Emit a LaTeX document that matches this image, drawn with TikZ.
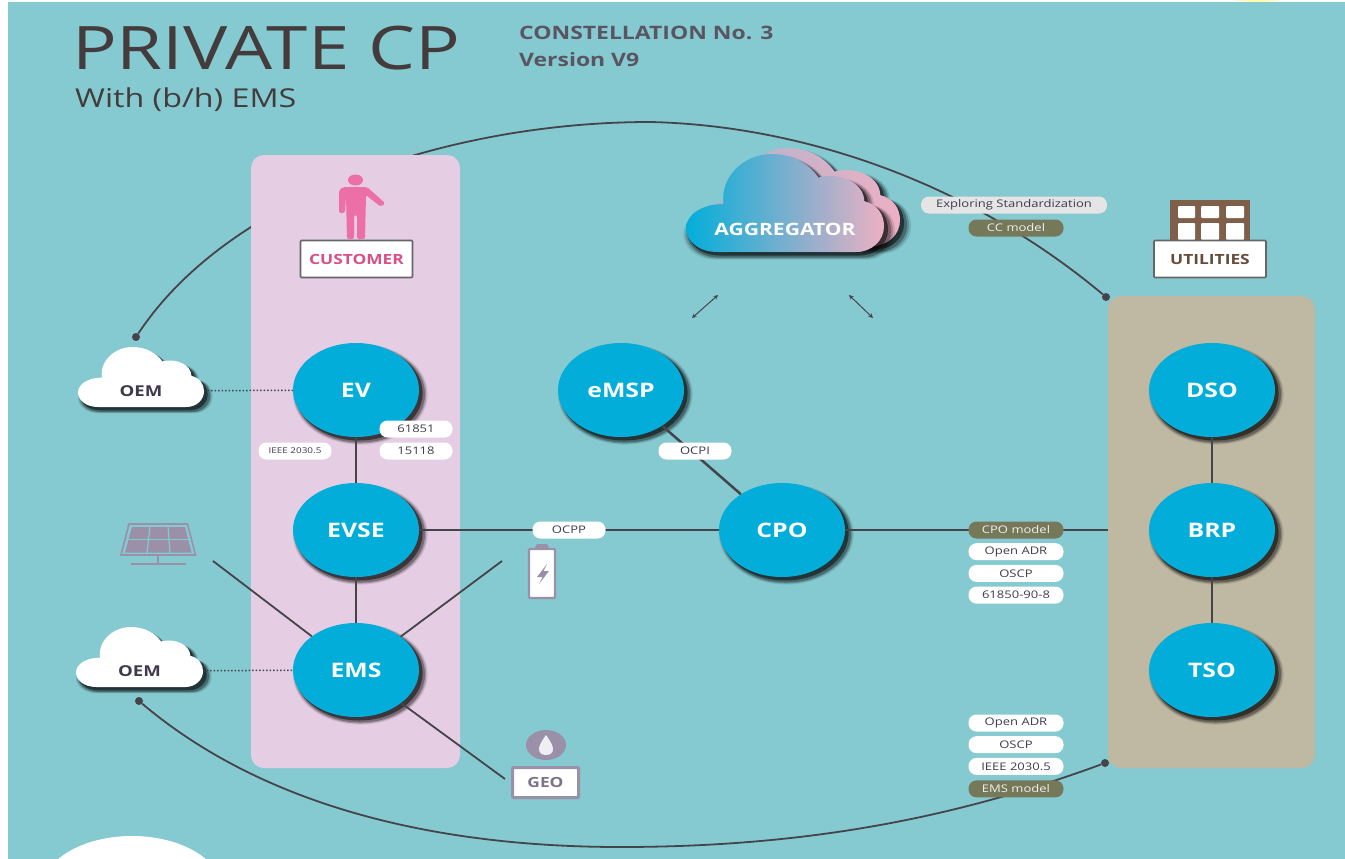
\documentclass[tikz,border=0pt]{standalone}
\usepackage{fontspec}
\setmainfont[FakeStretch=1.24]{Open Sans}
\usetikzlibrary{shapes.geometric,shadows}

\definecolor{tealback}{HTML}{85CAD1}
\definecolor{pinkpanel}{HTML}{E5CDE3}
\definecolor{tanpanel}{HTML}{BFB8A3}
\definecolor{actorblue}{HTML}{02AED9}
\definecolor{linedark}{HTML}{45444B}
\definecolor{titledark}{HTML}{443C3C}
\definecolor{subdark}{HTML}{5A5561}
\definecolor{pilltext}{HTML}{3F3A4E}
\definecolor{olivepill}{HTML}{76785A}
\definecolor{iconmauve}{HTML}{9A90A8}
\definecolor{manpink}{HTML}{EC6FA8}
\definecolor{custpink}{HTML}{D94F87}
\definecolor{brownbldg}{HTML}{7F5F4A}
\definecolor{cloudpink}{HTML}{EDB0C4}
\definecolor{cloudmauve}{HTML}{A9B4CE}

% cloud outline in a unit box, y running downwards
\newcommand{\cloudpath}{(0.16,1) .. controls (0.06,1) and (0,0.88) .. (0,0.76) .. controls (0,0.62) and (0.08,0.51) .. (0.19,0.51) .. controls (0.17,0.22) and (0.30,0) .. (0.43,0) .. controls (0.54,0) and (0.62,0.10) .. (0.67,0.24) .. controls (0.78,0.18) and (0.90,0.30) .. (0.90,0.48) .. controls (0.97,0.52) and (1,0.62) .. (1,0.74) .. controls (1,0.88) and (0.94,1) .. (0.86,1) -- cycle}

\tikzset{
  softshadow/.style={
    general shadow={fill=black,opacity=.10,shadow scale=1.07,shadow xshift=4pt,shadow yshift=-4pt},
    general shadow={fill=black,opacity=.18,shadow scale=1.05,shadow xshift=4pt,shadow yshift=-4pt},
    general shadow={fill=black,opacity=.28,shadow scale=1.03,shadow xshift=4pt,shadow yshift=-4pt},
    general shadow={fill=black,opacity=.50,shadow scale=1.01,shadow xshift=3pt,shadow yshift=-3pt}},
  actor/.style={ellipse,fill=actorblue,text=white,minimum width=126pt,minimum height=94pt,inner sep=0pt,softshadow,font=\fontsize{20}{24}\selectfont\bfseries},
  panelbox/.style={rounded corners=13pt,inner sep=0pt},
  pill/.style={rectangle,rounded corners=8pt,fill=white,text=pilltext,minimum width=73pt,minimum height=17pt,inner sep=0pt,font=\fontsize{10.5}{12}\selectfont},
  widepill/.style={pill,minimum width=95pt},
  olive/.style={widepill,fill=olivepill,text=white!90!olivepill},
  link/.style={draw=linedark,line width=2.5pt},
  thinlink/.style={draw=linedark,line width=1.8pt},
  dotlink/.style={draw=linedark,line width=1.5pt,dotted},
  enddot/.style={circle,fill=linedark,inner sep=0pt,minimum size=8pt},
  namebox/.style={rectangle,rounded corners=1pt,draw=black!60,line width=1.6pt,fill=white,minimum width=112pt,minimum height=37pt,inner sep=0pt,font=\fontsize{14}{16}\selectfont\bfseries},
  window/.style={fill=white,rounded corners=1pt},
}

\begin{document}
\begin{tikzpicture}[x=1pt,y=-1pt,node distance=140pt]
        \useasboundingbox (0,0) rectangle (1345,859);

        \begin{scope}
          \clip (0,0) rectangle (1345,859);
          \fill[yellow!30!white] (1257,-8) ellipse (40 and 10);
          \fill[tealback] (8,2) rectangle (1345,859);
          \fill[white] (132,890) ellipse (90 and 54);
        \end{scope}

        % arcs with their end dots
        \node (oemtopdot) [enddot] at (136,337) {};
        \node (oembottomdot) [enddot] at (139,701) {};
        \node (utiltopdot) [enddot] at (1106,297) {};
        \node (utilbottomdot) [enddot] at (1105,763) {};
        \draw[thinlink] (oemtopdot) .. controls (230,195) and (450,122) .. (650,122) .. controls (790,125) and (960,175) .. (utiltopdot);
        \draw[thinlink] (oembottomdot) .. controls (280,820) and (470,847) .. (620,847) .. controls (800,847) and (950,820) .. (utilbottomdot);

        % panels
        \node (customerpanel) [panelbox,fill=pinkpanel,minimum width=209pt,minimum height=613pt] at (355.5,461.5) {};
        \node (utilitypanel) [panelbox,fill=tanpanel,minimum width=207pt,minimum height=472pt] at (1211.5,532) {};

        % titles
        \node (title) [anchor=west,inner sep=0pt,text=titledark,font=\fontsize{60}{66}\selectfont] at (72,48) {PRIVATE CP};
        \node (subtitle) [anchor=west,inner sep=0pt,text=titledark,font=\fontsize{26}{30}\selectfont] at (75,100) {With (b/h) EMS};
        \node (constellation) [anchor=west,inner sep=0pt,text=subdark,font=\fontsize{18.5}{22}\selectfont\bfseries] at (519,33) {CONSTELLATION No. 3};
        \node (version) [anchor=west,inner sep=0pt,text=subdark,font=\fontsize{18.5}{22}\selectfont\bfseries] at (519,60) {Version V9};

        % actors
        \node (EV) [actor] at (356,390) {EV};
        \node (EVSE) [actor,below of=EV] {EVSE};
        \node (EMS) [actor,below of=EVSE] {EMS};
        \node (eMSP) [actor] at (621,390) {eMSP};
        \node (CPO) [actor] at (782,530) {CPO};
        \node (DSO) [actor] at (1212,390) {DSO};
        \node (BRP) [actor,below of=DSO] {BRP};
        \node (TSO) [actor,below of=BRP] {TSO};

        % clouds
        \fill[white,softshadow,shift={(78,347)},x=126pt,y=-60pt] \cloudpath;
        \fill[white,softshadow,shift={(76,627)},x=127pt,y=-60pt] \cloudpath;
        \node (oemtop) [text=pilltext,inner sep=0pt,minimum width=126pt,font=\fontsize{15}{18}\selectfont\bfseries] at (141,391) {OEM};
        \node (oembottom) [text=pilltext,inner sep=0pt,minimum width=127pt,font=\fontsize{15}{18}\selectfont\bfseries] at (139.5,671) {OEM};

        \shade[left color=cloudmauve,right color=cloudpink,softshadow,shift={(702,148)},x=198pt,y=-98pt] \cloudpath;
        \shade[left color=actorblue,right color=cloudpink,softshadow,shift={(686,154)},x=198pt,y=-98pt] \cloudpath;
        \node (aggregator) [text=white,inner sep=0pt,font=\fontsize{17}{20}\selectfont\bfseries] at (785,229) {AGGREGATOR};

        % customer icon
        \fill[manpink] (355.5,180) ellipse (7.5 and 5.5);
        \fill[manpink,rounded corners=2pt] (339,213) -- (339,190) -- (343,187) -- (367,187) -- (385,203) -- (381,207) -- (366,195) -- (365,239) -- (357,239) -- (357,215) -- (354,215) -- (354,239) -- (347,239) -- (346,195) -- (345,213) -- cycle;
        \node (customer) [namebox,text=custpink] at (356.5,259) {CUSTOMER};

        % utilities icon
        \fill[brownbldg] (1170,200) rectangle (1250,240);
        \fill[window] (1178,206) rectangle (1195,218);
        \fill[window] (1201,206) rectangle (1219,218);
        \fill[window] (1226,206) rectangle (1244,218);
        \fill[window] (1178,223) rectangle (1195,240);
        \fill[window] (1201,223) rectangle (1219,240);
        \fill[window] (1226,223) rectangle (1244,240);
        \node (utilities) [namebox,text=brownbldg!80!black] at (1210,259) {UTILITIES};

        % solar icon
        \draw[iconmauve,line width=1.6pt,fill=tealback] (129,524) -- (187.5,524) -- (195.5,555) -- (121,555) -- cycle;
        \fill[iconmauve] (132,527) -- (185,527) -- (191.5,552.5) -- (125,552.5) -- cycle;
        \draw[tealback,line width=1.2pt] (129,539.5) -- (189,539.5);
        \draw[tealback,line width=1.2pt] (150,526) -- (147,553);
        \draw[tealback,line width=1.2pt] (168,526) -- (170,553);
        \draw[iconmauve,line width=2pt] (158,555) -- (158,564);
        \draw[iconmauve,line width=2.4pt] (131,564) -- (186,564);

        % battery icon
        \draw[iconmauve,line width=2.4pt,fill=white,rounded corners=1pt] (529,549) rectangle (555,598);
        \fill[iconmauve,rounded corners=1.5pt] (535,549) -- (536,544) -- (548,544) -- (549,549) -- cycle;
        \fill[iconmauve] (547,564) -- (537,577) -- (542.5,577) -- (539,584) -- (549,571) -- (543.5,571) -- cycle;

        % geo icon
        \node (geodrop) [ellipse,fill=iconmauve,minimum width=40pt,minimum height=30pt,inner sep=0pt] at (546,745) {};
        \fill[white!85!iconmauve] (546,735) .. controls (541,742) and (539,746) .. (539,749) .. controls (539,753) and (542,755) .. (546,755) .. controls (550,755) and (553,753) .. (553,749) .. controls (553,746) and (551,742) .. (546,735);
        \node (geo) [rectangle,rounded corners=1pt,draw=iconmauve,line width=3pt,fill=white,text=iconmauve!80!black,minimum width=66pt,minimum height=30pt,inner sep=0pt,font=\fontsize{14}{16}\selectfont\bfseries] at (545.5,782.5) {GEO};

        % free ends
        \coordinate (solarend) at (213,561);
        \coordinate (batteryend) at (502,561);
        \coordinate (geoend) at (505,779);
        \coordinate (aggleftlow) at (692,318);
        \coordinate (aggleftup) at (718,295);
        \coordinate (aggrightup) at (849,295);
        \coordinate (aggrightlow) at (873,318);

        % connectors
        \draw[link] (EV) to (EVSE);
        \draw[link] (EVSE) to (EMS);
        \draw[link] (EVSE) to (CPO);
        \draw[link] (eMSP) to (CPO);
        \draw[link] (CPO) to (CPO -| utilitypanel.west);
        \draw[link] (DSO) to (BRP);
        \draw[link] (BRP) to (TSO);
        \draw[thinlink] (solarend) to (EMS);
        \draw[thinlink] (batteryend) to (EMS);
        \draw[thinlink] (EMS) to (geoend);
        \draw[dotlink] (oemtop) to (EV);
        \draw[dotlink] (oembottom) to (EMS);
        \draw[<->,>=stealth,linedark,line width=1pt] (aggleftlow) to (aggleftup);
        \draw[<->,>=stealth,linedark,line width=1pt] (aggrightup) to (aggrightlow);

        % labels
        \node (t61851) [pill] at (416,429) {61851};
        \node (t15118) [pill,below of=t61851,node distance=22pt] {15118};
        \node (tieeeleft) [pill,left of=t15118,node distance=121pt,font=\fontsize{8}{10}\selectfont] {IEEE 2030.5};
        \node (tocpp) [pill] at (569,530) {OCPP};
        \node (tocpi) [pill] at (695,451) {OCPI};

        \node (texplore) [pill,fill=white!90!black,minimum width=186pt] at (1014,205) {Exploring Standardization};
        \node (tcc) [olive] at (1016,228) {CC model};

        \node (tcpo) [olive] at (1016,530) {CPO model};
        \node (tadrtop) [widepill,below of=tcpo,node distance=21.7pt] {Open ADR};
        \node (toscptop) [widepill,below of=tadrtop,node distance=21.7pt] {OSCP};
        \node (t6185) [widepill,below of=toscptop,node distance=21.7pt] {61850-90-8};

        \node (tadrlow) [widepill] at (1016,723) {Open ADR};
        \node (toscplow) [widepill,below of=tadrlow,node distance=21.7pt] {OSCP};
        \node (tieeeright) [widepill,below of=toscplow,node distance=21.7pt] {IEEE 2030.5};
        \node (tems) [olive,below of=tieeeright,node distance=22.5pt] {EMS model};

\end{tikzpicture}
\end{document}
